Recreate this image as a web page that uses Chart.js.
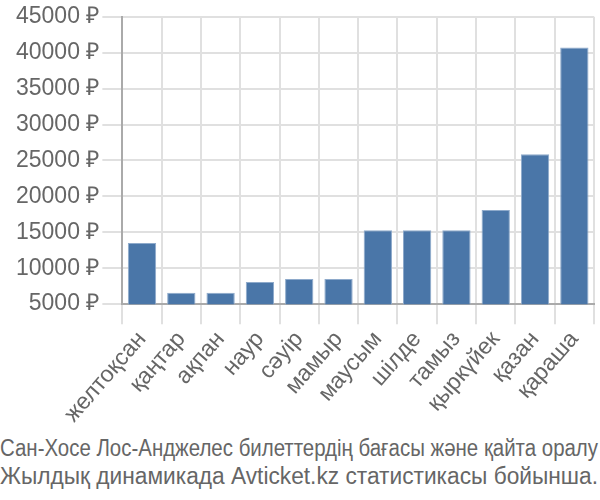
<!DOCTYPE html>
<html lang="kk">
<head>
  <meta charset="UTF-8" />
  <title>Сан-Хосе Лос-Анджелес</title>
  <script src="https://cdn.jsdelivr.net/npm/chart.js"></script>
  <style>
    body { margin: 0; background: #fff; }
    #wrap { width: 600px; height: 430px; position: relative; }
    #caption {
      font-family: "Liberation Sans", sans-serif;
      font-size: 23px;
      line-height: 28px;
      color: #666;
      white-space: nowrap;
      margin-top: 4px;
    }
    #caption span { display: inline-block; transform-origin: 0 0; }
  </style>
</head>
<body>
  <div id="wrap"><canvas id="priceChart"></canvas></div>
  <div id="caption"><span id="line1">Сан-Хосе Лос-Анджелес билеттердің бағасы және қайта оралу</span><br><span id="line2">Жылдық динамикада Avticket.kz статистикасы бойынша.</span></div>

  <script>
    const months = ["желтоқсан", "қаңтар", "ақпан", "наур", "сәуір", "мамыр", "маусым", "шілде", "тамыз", "қыркүйек", "қазан", "қараша"];
    const prices = [13500, 6600, 6600, 8100, 8500, 8500, 15300, 15300, 15300, 18100, 25850, 40730];
    const yMin = 5000;
    const yMax = 45000;
    const yStep = 5000;

    // squeeze caption lines that are wider than the page
    ["line1", "line2"].forEach(id => {
      const el = document.getElementById(id);
      const w = el.getBoundingClientRect().width;
      if (w > 598) el.style.transform = "scaleX(" + (598 / w) + ")";
    });

    const ctx = document.getElementById("priceChart").getContext("2d");

    new Chart(ctx, {
      type: "bar",
      data: {
        labels: months,
        datasets: [{
          data: prices,
          backgroundColor: "#4a76a8",
          borderColor: "#8eaacb",
          borderWidth: 1
        }]
      },
      options: {
        responsive: true,
        maintainAspectRatio: false,
        animation: false,
        layout: { padding: { top: 4, right: 6, left: 13, bottom: 0 } },
        plugins: {
          legend: { display: false },
          tooltip: { enabled: false }
        },
        scales: {
          x: {
            grid: { color: "#e0e0e0", lineWidth: 2, tickLength: 20 },
            border: { color: "#aaa", width: 2 },
            ticks: {
              color: "#666",
              font: { family: "Liberation Sans", size: 23 },
              minRotation: 49,
              maxRotation: 49,
              autoSkip: false,
              padding: 2
            }
          },
          y: {
            min: yMin,
            max: yMax,
            grid: { color: "#e0e0e0", lineWidth: 2, tickLength: 20 },
            border: { color: "#aaa", width: 2 },
            ticks: {
              stepSize: yStep,
              color: "#666",
              font: { family: "Liberation Sans", size: 23 },
              padding: 3,
              callback: v => v + " ₽"
            }
          }
        }
      }
    });
  </script>
</body>
</html>
